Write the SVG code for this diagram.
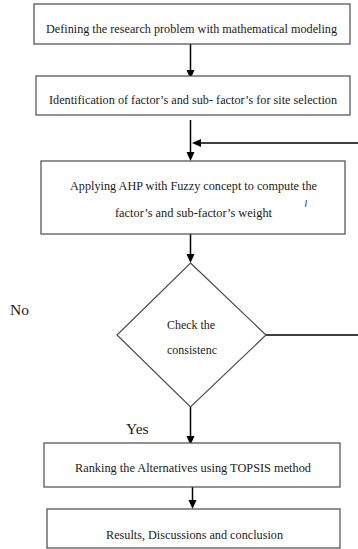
<svg xmlns="http://www.w3.org/2000/svg" width="358" height="549" viewBox="0 0 358 549">
  <style>
    .box { fill: #ffffff; stroke: #4a4a4a; stroke-width: 1.2; }
    .lbl { font-family: 'Liberation Serif', 'DejaVu Serif', serif; font-size: 12px; fill: #1a1a1a; text-anchor: middle; }
    .tag { font-family: 'Liberation Serif', 'DejaVu Serif', serif; font-size: 15.5px; fill: #1a1a1a; }
    .edge { fill: none; stroke: #000000; stroke-width: 1.5; }
    .head { fill: #000000; }
  </style>
  <rect width="358" height="549" fill="#ffffff"/>

  <g id="connectors">
    <path class="edge" d="M190.5,44 V72"/>
    <path class="head" d="M186.5,70 L194.5,70 L190.5,79 z"/>
    <path class="edge" d="M190.5,120 V154"/>
    <path class="head" d="M186.5,152 L194.5,152 L190.5,161 z"/>
    <!-- feedback from the decision back into the weighting step -->
    <path class="edge" d="M266,335 H360 V143 H198"/>
    <path class="head" d="M192,143 L201,139 L201,147 z"/>
    <path class="edge" d="M190.5,225 V256"/>
    <path class="head" d="M186.5,254 L194.5,254 L190.5,263 z"/>
    <path class="edge" d="M190.5,407 V438"/>
    <path class="head" d="M186.5,436 L194.5,436 L190.5,445 z"/>
    <path class="edge" d="M192.5,481 V502"/>
    <path class="head" d="M188.5,500 L196.5,500 L192.5,509 z"/>
  </g>

  <g id="define-problem">
    <rect class="box" x="34" y="4" width="316" height="40"/>
    <text class="lbl" x="191.5" y="33" textLength="291" lengthAdjust="spacingAndGlyphs">Defining the research problem with mathematical modeling</text>
  </g>

  <g id="identify-factors">
    <rect class="box" x="36" y="76" width="314" height="39"/>
    <text class="lbl" x="193" y="104" textLength="288" lengthAdjust="spacingAndGlyphs">Identification of factor’s and sub- factor’s for site selection</text>
  </g>

  <g id="fuzzy-ahp">
    <rect class="box" x="41" y="161" width="304" height="73"/>
    <text class="lbl" x="193.5" y="190" textLength="247" lengthAdjust="spacingAndGlyphs">Applying AHP with Fuzzy concept to compute the</text>
    <text class="lbl" x="193.5" y="217" textLength="157" lengthAdjust="spacingAndGlyphs">factor’s and sub-factor’s weight</text>
    <line x1="305.5" y1="207" x2="306.5" y2="200" stroke="#2a7fd4" stroke-width="1.3"/>
  </g>

  <g id="consistency-check">
    <path class="box" d="M190.5,263 L266,335 L190.5,407 L117,335 z"/>
    <text class="lbl" x="191" y="329" textLength="48" lengthAdjust="spacingAndGlyphs">Check the</text>
    <text class="lbl" x="192" y="354" textLength="50" lengthAdjust="spacingAndGlyphs">consistenc</text>
  </g>

  <g id="branch-labels">
    <text class="tag" x="10" y="315">No</text>
    <text class="tag" x="126" y="434">Yes</text>
  </g>

  <g id="topsis-ranking">
    <rect class="box" x="44" y="443" width="296" height="44"/>
    <text class="lbl" x="193" y="472" textLength="236" lengthAdjust="spacingAndGlyphs">Ranking the Alternatives using TOPSIS method</text>
  </g>

  <g id="results">
    <rect class="box" x="47" y="509" width="293" height="39"/>
    <text class="lbl" x="194.5" y="539" textLength="177" lengthAdjust="spacingAndGlyphs">Results, Discussions and conclusion</text>
  </g>
</svg>
